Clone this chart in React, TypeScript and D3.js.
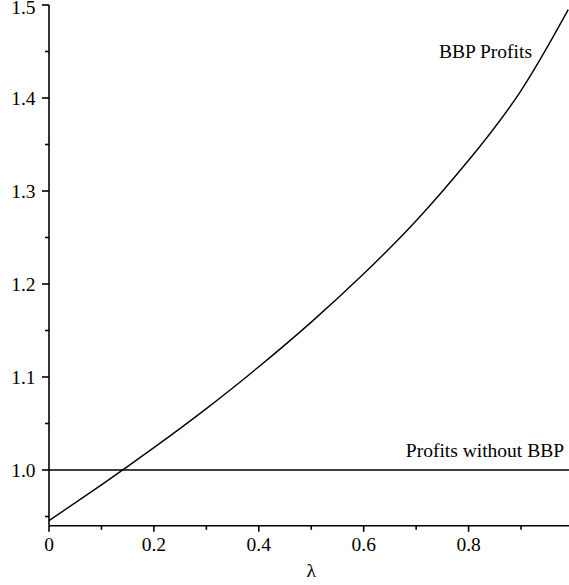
import React from "react";
import * as d3 from "d3";

const lambdaValues = [0, 0.1, 0.2, 0.3, 0.4, 0.5, 0.6, 0.7, 0.8, 0.9, 0.99];
const bbpProfits = [0.9455, 0.984, 1.024, 1.066, 1.111, 1.159, 1.211, 1.268, 1.333, 1.408, 1.495];
const baselineProfit = 1.0;
const xMajorTicks = [0, 0.2, 0.4, 0.6, 0.8];
const xMinorTicks = [0.1, 0.3, 0.5, 0.7, 0.9];
const yMajorTicks = [1.0, 1.1, 1.2, 1.3, 1.4, 1.5];
const yMinorTicks = [0.95, 1.05, 1.15, 1.25, 1.35, 1.45];
const seriesLabels = ["BBP Profits", "Profits without BBP"];
const xAxisLabel = "λ";

const W = 569;
const H = 585;

export default function App() {
  const x = d3.scaleLinear().domain([0, 1]).range([49, 49 + 524.5]);
  const y = d3.scaleLinear().domain([1.0, 1.5]).range([470, 5]);
  const yMinVal = 0.94;
  const xMaxVal = 0.9914;
  const axisY = y(yMinVal);
  const line = d3
    .line<number>()
    .x((_, i) => x(lambdaValues[i]))
    .y((d) => y(d))
    .curve(d3.curveNatural);
  const font = '"Liberation Serif", "Times New Roman", Times, serif';
  const fs = 19.5;
  const fmtX = (v: number) => (v === 0 ? "0" : v.toFixed(1));
  return (
    <svg
      width={W}
      height={H}
      style={{ position: "fixed", left: 0, top: 0, background: "#fff", fontFamily: font }}
    >
      <rect width={W} height={H} fill="#fff" />
      {/* y axis */}
      <line x1={x(0)} x2={x(0)} y1={y(1.5)} y2={axisY} stroke="#000" strokeWidth={1.6} />
      {yMajorTicks.map((t) => (
        <g key={"ym" + t}>
          <line x1={x(0) - 7} x2={x(0)} y1={y(t)} y2={y(t)} stroke="#000" strokeWidth={1.6} />
          <text x={35.5} y={Math.max(y(t) + 6.7, 13.5)} fontSize={fs} textAnchor="end" fill="#000" style={{ fontFamily: font }}>
            {t.toFixed(1)}
          </text>
        </g>
      ))}
      {yMinorTicks.map((t) => (
        <line key={"yn" + t} x1={x(0) - 4} x2={x(0)} y1={y(t)} y2={y(t)} stroke="#000" strokeWidth={1.6} />
      ))}
      {/* x axis */}
      <line x1={x(0)} x2={x(xMaxVal)} y1={axisY} y2={axisY} stroke="#000" strokeWidth={1.6} />
      {xMajorTicks.map((t) => (
        <g key={"xm" + t}>
          <line x1={x(t)} x2={x(t)} y1={axisY} y2={axisY + 6} stroke="#000" strokeWidth={1.6} />
          <text x={x(t)} y={550.7} fontSize={fs} textAnchor="middle" fill="#000" style={{ fontFamily: font }}>
            {fmtX(t)}
          </text>
        </g>
      ))}
      {xMinorTicks.map((t) => (
        <line key={"xn" + t} x1={x(t)} x2={x(t)} y1={axisY} y2={axisY + 4} stroke="#000" strokeWidth={1.6} />
      ))}
      <text x={x(0.5)} y={577} fontSize={fs} textAnchor="middle" fill="#000" style={{ fontFamily: font }}>
        {xAxisLabel}
      </text>
      {/* baseline */}
      <line
        x1={x(0)}
        x2={x(xMaxVal)}
        y1={y(baselineProfit)}
        y2={y(baselineProfit)}
        stroke="#000"
        strokeWidth={1.4}
      />
      {/* BBP curve */}
      <path d={line(bbpProfits) || ""} fill="none" stroke="#000" strokeWidth={1.4} />
      <text x={532} y={58} fontSize={fs} textAnchor="end" fill="#000" style={{ fontFamily: font }}>
        {seriesLabels[0]}
      </text>
      <text x={564} y={457} fontSize={fs} textAnchor="end" fill="#000" style={{ fontFamily: font }}>
        {seriesLabels[1]}
      </text>
    </svg>
  );
}
